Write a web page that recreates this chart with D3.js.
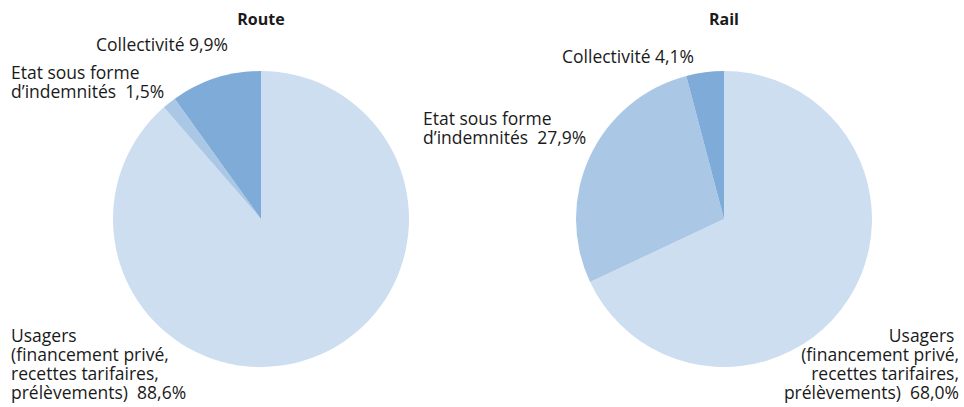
<!DOCTYPE html>
<html>
<head>
<meta charset="utf-8">
<script src="https://cdn.jsdelivr.net/npm/d3@7"></script>
<style>
  body { margin: 0; background: #fff; }
  svg { display: block; }
  text { font-family: "Open Sans", sans-serif; fill: #1a1a1a; white-space: pre; }
  .title { font-weight: bold; font-size: 16px; }
  .lbl { font-size: 17.5px; }
</style>
</head>
<body>
<div id="chart"></div>
<script>
// data
var categories = ['Usagers', 'Etat sous forme d\u2019indemnités', 'Collectivité'];
var titles = ['Route', 'Rail'];
var routeValues = [88.6, 1.5, 9.9];
var railValues = [68.0, 27.9, 4.1];
var colors = ['#cddef0', '#aac8e6', '#7eabd8'];

var W = 964, H = 407;
var radius = 148;
var lineH = 19;

var fmt = function(v) { return d3.format('.1f')(v).replace('.', ',') + '%'; };

var svg = d3.select('#chart').append('svg')
  .attr('width', W)
  .attr('height', H);

var pie = d3.pie().sort(null).value(function(d) { return d; });
var arc = d3.arc().innerRadius(0).outerRadius(radius);

// label layout per category
var charts = [
  {
    title: titles[0], values: routeValues, cx: 261, cy: 219,
    labels: [
      { lines: ['Usagers', '(financement privé,', 'recettes tarifaires,', 'prélèvements)  ' + fmt(routeValues[0])], x: 11, y: 342, anchor: 'start' },
      { lines: ['Etat sous forme', 'd\u2019indemnités  ' + fmt(routeValues[1])], x: 11, y: 79, anchor: 'start' },
      { lines: ['Collectivité ' + fmt(routeValues[2])], x: 96, y: 51, anchor: 'start' }
    ]
  },
  {
    title: titles[1], values: railValues, cx: 724, cy: 219,
    labels: [
      { lines: ['Usagers ', '(financement privé,', 'recettes tarifaires,', 'prélèvements)  ' + fmt(railValues[0])], x: 959, y: 342, anchor: 'end' },
      { lines: ['Etat sous forme', 'd\u2019indemnités  ' + fmt(railValues[1])], x: 423, y: 125, anchor: 'start' },
      { lines: ['Collectivité ' + fmt(railValues[2])], x: 562, y: 63, anchor: 'start' }
    ]
  }
];

charts.forEach(function(c) {
  var g = svg.append('g')
    .attr('transform', 'translate(' + c.cx + ',' + c.cy + ')');

  g.selectAll('path')
    .data(pie(c.values))
    .enter().append('path')
      .attr('d', arc)
      .attr('fill', function(d, i) { return colors[i]; });

  svg.append('text')
    .attr('class', 'title')
    .attr('x', c.cx)
    .attr('y', 25)
    .attr('text-anchor', 'middle')
    .text(c.title);

  c.labels.forEach(function(l) {
    var t = svg.append('text')
      .attr('class', 'lbl')
      .attr('text-anchor', l.anchor);
    t.selectAll('tspan')
      .data(l.lines)
      .enter().append('tspan')
        .attr('x', l.x)
        .attr('y', function(d, i) { return l.y + i * lineH; })
        .text(function(d) { return d; });
  });
});
</script>
</body>
</html>
